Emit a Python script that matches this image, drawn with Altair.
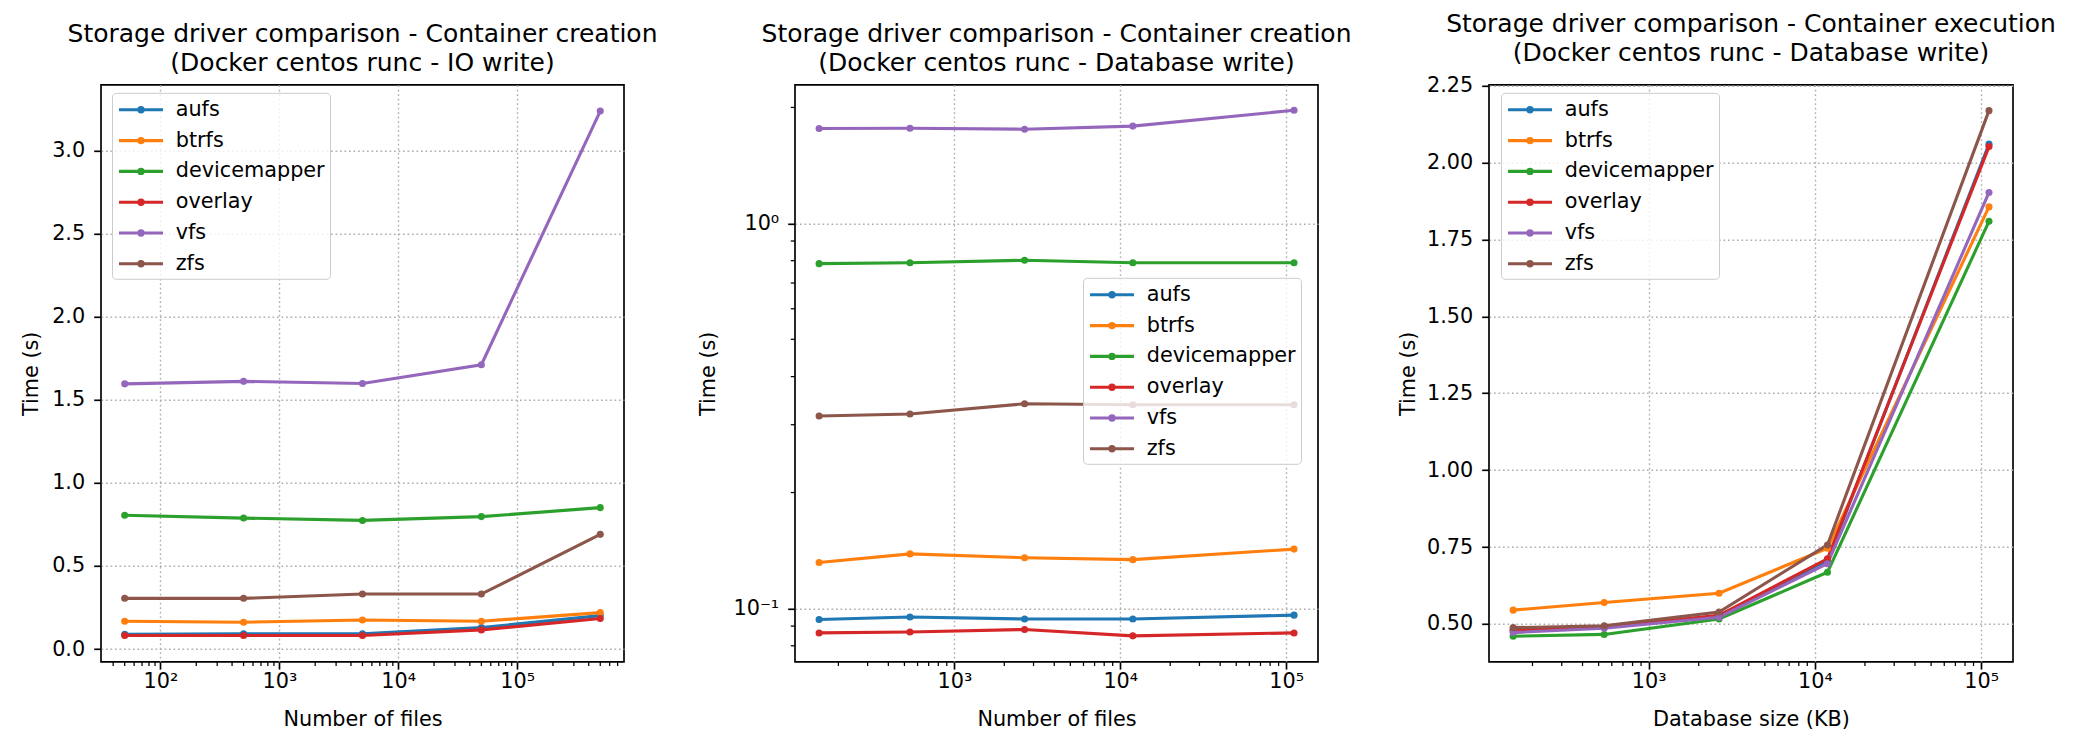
import altair as alt
import pandas as pd

FONT = "DejaVu Sans"
SERIES = ["aufs", "btrfs", "devicemapper", "overlay", "vfs", "zfs"]
COLORS = ["#1f77b4", "#ff7f0e", "#2ca02c", "#d62728", "#9467bd", "#8c564b"]

# ---- Panel 1: Container creation, IO write ----
files_io = [50, 500, 5000, 50000, 500000]
io_aufs = [0.089, 0.092, 0.092, 0.129, 0.201]
io_btrfs = [0.167, 0.161, 0.175, 0.167, 0.219]
io_devicemapper = [0.805, 0.788, 0.774, 0.797, 0.851]
io_overlay = [0.081, 0.081, 0.081, 0.115, 0.184]
io_vfs = [1.596, 1.611, 1.598, 1.711, 3.238]
io_zfs = [0.305, 0.305, 0.331, 0.331, 0.690]

# ---- Panel 2: Container creation, Database write ----
files_db = [153, 540, 2650, 11900, 111500]
dbc_aufs = [0.0936, 0.0950, 0.0939, 0.0939, 0.0961]
dbc_btrfs = [0.1317, 0.1386, 0.1354, 0.1339, 0.1426]
dbc_devicemapper = [0.786, 0.790, 0.802, 0.790, 0.790]
dbc_overlay = [0.0864, 0.0869, 0.0882, 0.0849, 0.0864]
dbc_vfs = [1.763, 1.766, 1.756, 1.789, 1.966]
dbc_zfs = [0.316, 0.320, 0.340, 0.338, 0.338]

# ---- Panel 3: Container execution, Database write ----
dbsize = [153, 540, 2650, 11900, 111500]
dbe_aufs = [0.481, 0.491, 0.526, 0.707, 2.060]
dbe_btrfs = [0.545, 0.570, 0.600, 0.746, 1.856]
dbe_devicemapper = [0.460, 0.466, 0.516, 0.668, 1.809]
dbe_overlay = [0.478, 0.489, 0.528, 0.712, 2.052]
dbe_vfs = [0.472, 0.486, 0.522, 0.696, 1.903]
dbe_zfs = [0.488, 0.494, 0.539, 0.757, 2.169]

# axis tick positions
major_x = [100, 1000, 10000, 100000]
minor_x_p1 = [40, 50, 60, 70, 80, 90, 200, 300, 400, 500, 600, 700, 800, 900,
              2000, 3000, 4000, 5000, 6000, 7000, 8000, 9000,
              20000, 30000, 40000, 50000, 60000, 70000, 80000, 90000,
              200000, 300000, 400000, 500000, 600000, 700000]
minor_x_db = [200, 300, 400, 500, 600, 700, 800, 900,
              2000, 3000, 4000, 5000, 6000, 7000, 8000, 9000,
              20000, 30000, 40000, 50000, 60000, 70000, 80000, 90000]
minor_y_p2 = [0.08, 0.09, 0.2, 0.3, 0.4, 0.5, 0.6, 0.7, 0.8, 0.9, 2]

H = 577
XEXPR = ("datum.value == 100 ? '10²' : datum.value == 1000 ? '10³' : "
         "datum.value == 10000 ? '10⁴' : '10⁵'")

LEG_PATH = ("M-1,0L3.4,0M0.985,0A0.215,0.215,0,1,0,1.415,0"
            "A0.215,0.215,0,1,0,0.985,0Z")


def make_df(xs, d):
    rows = []
    for s in SERIES:
        for x, y in zip(xs, d[s]):
            rows.append({"x": x, "y": y, "series": s})
    return pd.DataFrame(rows)


def panel(df, title, xtitle, xdomain, ydomain, ytype, yvalues, ylabelexpr,
          yformat, xminor, yminor, legx, legy, width, ytitlepad):
    xscale = alt.Scale(type="log", domain=xdomain, nice=False, zero=False)
    yscale = alt.Scale(type=ytype, domain=ydomain, nice=False, zero=False)
    xaxis = alt.Axis(values=major_x, labelExpr=XEXPR, title=xtitle,
                     labelPadding=2.5, titlePadding=18, labelFlush=False)
    yargs = dict(values=yvalues, title="Time (s)", labelPadding=9,
                 titlePadding=ytitlepad, labelFlush=False)
    if ylabelexpr:
        yargs["labelExpr"] = ylabelexpr
    if yformat:
        yargs["format"] = yformat
    yaxis = alt.Axis(**yargs)
    cscale = alt.Scale(domain=SERIES, range=COLORS)
    legend = alt.Legend(
        title=None, orient="none", legendX=legx, legendY=legy,
        symbolType=LEG_PATH, symbolSize=400, symbolStrokeWidth=3.1,
        labelOffset=34.7, padding=5, rowPadding=8.8,
        fillColor="rgba(255,255,255,0.8)", strokeColor="#cccccc",
        cornerRadius=4, zindex=1, labelFont=FONT, labelFontSize=20.8,
        labelColor="black", labelLimit=400,
    )
    base = alt.Chart(df)
    line = base.mark_line(strokeWidth=3.1).encode(
        x=alt.X("x:Q", scale=xscale, axis=xaxis),
        y=alt.Y("y:Q", scale=yscale, axis=yaxis),
        stroke=alt.Stroke("series:N", scale=cscale, legend=legend),
    )
    pts = base.mark_point(filled=True, size=50, opacity=1).encode(
        x=alt.X("x:Q", scale=xscale, axis=xaxis),
        y=alt.Y("y:Q", scale=yscale, axis=yaxis),
        fill=alt.Fill("series:N", scale=cscale, legend=None),
    )
    mx = alt.Chart(pd.DataFrame({"x": xminor})).mark_rule(
        color="black", strokeWidth=1.25).encode(
        x=alt.X("x:Q", scale=xscale, axis=xaxis),
        y=alt.value(H), y2=alt.value(H + 4.2))
    layers = [line, pts, mx]
    if yminor:
        my = alt.Chart(pd.DataFrame({"y": yminor})).mark_rule(
            color="black", strokeWidth=1.25).encode(
            y=alt.Y("y:Q", scale=yscale, axis=yaxis),
            x=alt.value(0), x2=alt.value(-4.2))
        layers.append(my)
    return alt.layer(*layers).properties(
        width=width, height=H,
        title=alt.Title(text=title[0], subtitle=title[1], fontSize=25,
                        font=FONT, fontWeight="normal", anchor="middle",
                        baseline="top", offset=9, color="black",
                        frame="group", subtitleFont=FONT,
                        subtitleFontSize=25, subtitleColor="black",
                        subtitleFontWeight="normal", subtitlePadding=3.7),
    )


d1 = {"aufs": io_aufs, "btrfs": io_btrfs, "devicemapper": io_devicemapper,
      "overlay": io_overlay, "vfs": io_vfs, "zfs": io_zfs}
d2 = {"aufs": dbc_aufs, "btrfs": dbc_btrfs, "devicemapper": dbc_devicemapper,
      "overlay": dbc_overlay, "vfs": dbc_vfs, "zfs": dbc_zfs}
d3 = {"aufs": dbe_aufs, "btrfs": dbe_btrfs, "devicemapper": dbe_devicemapper,
      "overlay": dbe_overlay, "vfs": dbe_vfs, "zfs": dbe_zfs}

p1 = panel(make_df(files_io, d1),
           ["Storage driver comparison - Container creation",
            "(Docker centos runc - IO write)"],
           "Number of files", [31.6, 792000], [-0.077, 3.396], "linear",
           [0.0, 0.5, 1.0, 1.5, 2.0, 2.5, 3.0], None, ".1f",
           minor_x_p1, None, 11, 8, 523, 10)
p2 = panel(make_df(files_db, d2),
           ["Storage driver comparison - Container creation",
            "(Docker centos runc - Database write)"],
           "Number of files", [109.5, 155500], [0.0727, 2.29], "log",
           [0.1, 1], "datum.value == 1 ? '10⁰' : '10⁻¹'", None,
           minor_x_db, minor_y_p2, 288, 193, 523, 14.5)
p3 = panel(make_df(dbsize, d3),
           ["Storage driver comparison - Container execution",
            "(Docker centos runc - Database write)"],
           "Database size (KB)", [109.5, 155500], [0.377, 2.253], "linear",
           [0.5, 0.75, 1.0, 1.25, 1.5, 1.75, 2.0, 2.25], None, ".2f",
           minor_x_db, None, 12, 8, 524, 8)

chart = alt.hconcat(p1, p2, p3, spacing=171, bounds="flush").resolve_scale(
    stroke="independent", fill="independent",
).resolve_legend(
    stroke="independent", fill="independent",
).properties(
    padding={"left": 19, "top": 10.8, "right": 10, "bottom": 10},
    background="white",
).configure_view(
    stroke="black", strokeWidth=1.67,
).configure_axis(
    labelFont=FONT, labelFontSize=20.8, labelColor="black",
    titleFont=FONT, titleFontSize=20.8, titleFontWeight="normal",
    titleColor="black", tickColor="black", tickWidth=1.67, tickSize=7.3,
    domain=False, grid=True, gridColor="#b0b0b0", gridDash=[1.7, 2.8],
    gridWidth=1.4, labelOverlap=False,
)

chart.save("out.html", embed_options={"renderer": "svg", "actions": False})
